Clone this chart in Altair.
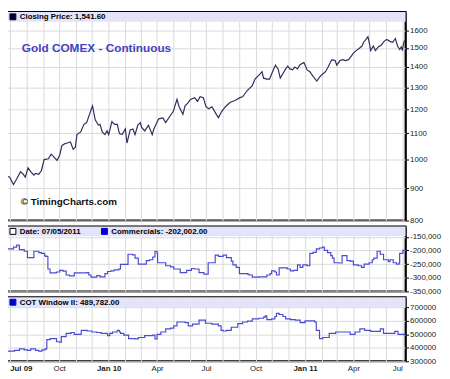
import altair as alt
import pandas as pd

# ---------------- data ----------------
START = "2009-07-01"  # day 0 of the day offsets below

# Gold COMEX continuous, closing price (days since START, price)
price_days = [-5, 0, 7, 13, 20, 25, 29, 34, 39, 45,
              48, 54, 59, 64, 72, 77, 82, 88, 93, 97,
              102, 107, 113, 118, 122, 125, 132, 138, 143, 149,
              152, 154, 159, 165, 168, 172, 177, 181, 184, 190,
              195, 200, 204, 209, 215, 218, 224, 229, 233, 238,
              243, 245, 251, 258, 265, 268, 277, 285, 290, 299,
              304, 311, 315, 322, 326, 331, 336, 344, 349, 354,
              360, 365, 370, 376, 383, 388, 394, 401, 410, 419,
              428, 433, 442, 451, 456, 463, 469, 472, 478, 483,
              490, 494, 499, 503, 508, 513, 517, 521, 526, 530,
              535, 539, 544, 547, 553, 558, 564, 571, 576, 581,
              587, 592, 596, 599, 605, 608, 614, 619, 624, 630,
              633, 639, 644, 649, 655, 658, 662, 666, 669, 671,
              676, 680, 685, 691, 696, 701, 707, 712, 717, 721,
              725, 728, 730, 732, 734]
price_vals = [940, 937, 912, 931, 956, 947, 937, 969, 956, 944,
              950, 947, 960, 999, 1002, 1019, 1009, 996, 1016, 1051,
              1058, 1061, 1065, 1037, 1044, 1094, 1105, 1136, 1143, 1182,
              1202, 1215, 1155, 1132, 1136, 1105, 1094, 1109, 1094, 1147,
              1136, 1136, 1098, 1094, 1117, 1061, 1113, 1117, 1094, 1132,
              1143, 1124, 1109, 1132, 1094, 1117, 1159, 1163, 1143, 1174,
              1190, 1244, 1211, 1178, 1215, 1227, 1244, 1252, 1235, 1256,
              1252, 1211, 1202, 1211, 1182, 1163, 1190, 1211, 1231, 1239,
              1252, 1256, 1286, 1308, 1339, 1358, 1376, 1344, 1339, 1339,
              1385, 1409, 1390, 1344, 1367, 1390, 1404, 1390, 1385, 1400,
              1390, 1409, 1419, 1423, 1385, 1376, 1353, 1330, 1349, 1362,
              1376, 1400, 1423, 1438, 1433, 1409, 1433, 1438, 1433, 1438,
              1448, 1472, 1486, 1496, 1511, 1532, 1547, 1563, 1522, 1486,
              1511, 1486, 1506, 1517, 1537, 1547, 1537, 1532, 1553, 1511,
              1492, 1506, 1486, 1522, 1541.6]

# Commercials net position (thousands of contracts)
comm_days = [-5, 7, 13, 17, 18, 27, 33, 39, 45, 51,
             54, 59, 65, 67, 71, 75, 84, 87, 93, 99,
             105, 111, 117, 120, 144, 147, 151, 159, 162, 168,
             174, 177, 182, 188, 194, 203, 206, 218, 220, 228,
             233, 239, 251, 254, 260, 266, 270, 274, 275, 287,
             290, 299, 305, 314, 317, 323, 329, 338, 343, 352,
             361, 366, 369, 376, 382, 388, 397, 403, 412, 415,
             421, 427, 442, 445, 451, 457, 463, 475, 478, 484,
             487, 493, 496, 501, 510, 516, 522, 528, 535, 540,
             545, 553, 558, 564, 570, 576, 581, 585, 591, 597,
             600, 603, 612, 618, 624, 627, 633, 639, 648, 654,
             659, 668, 674, 677, 683, 689, 695, 704, 707, 713,
             719, 724, 725, 731, 734]
comm_k = [-194, -188, -180, -182, -197, -203, -226, -226, -203, -203,
          -208, -211, -220, -222, -268, -282, -282, -279, -273, -276,
          -290, -293, -293, -282, -281, -290, -298, -298, -292, -297,
          -297, -285, -277, -275, -271, -268, -251, -251, -214, -216,
          -228, -250, -250, -237, -234, -224, -203, -211, -245, -245,
          -256, -260, -268, -268, -281, -281, -273, -266, -268, -281,
          -287, -287, -245, -245, -217, -222, -217, -226, -239, -253,
          -262, -285, -287, -290, -298, -298, -297, -297, -290, -285,
          -275, -279, -290, -264, -264, -268, -275, -273, -253, -262,
          -253, -256, -211, -207, -194, -191, -188, -200, -208, -219,
          -228, -245, -246, -219, -219, -237, -239, -253, -256, -262,
          -250, -245, -234, -228, -203, -214, -234, -241, -234, -245,
          -250, -245, -211, -200, -202.002]

# COT Window II (thousands)
cot_days = [-5, 4, 9, 18, 27, 33, 39, 48, 54, 60,
            66, 69, 75, 84, 87, 93, 96, 102, 105, 114,
            120, 131, 133, 144, 153, 162, 170, 177, 182, 186,
            191, 200, 204, 206, 212, 221, 233, 239, 251, 266,
            270, 274, 281, 287, 290, 299, 305, 311, 320, 326,
            332, 340, 349, 352, 361, 364, 376, 388, 393, 397,
            403, 412, 424, 433, 442, 451, 463, 472, 475, 478,
            487, 493, 496, 501, 508, 513, 522, 531, 540, 549,
            567, 570, 576, 582, 594, 606, 624, 633, 642, 651,
            660, 671, 686, 689, 695, 710, 716, 722, 731, 734]
cot_k = [376, 376, 381, 392, 385, 381, 392, 381, 376, 385,
         392, 461, 468, 468, 445, 443, 484, 484, 507, 514,
         500, 500, 530, 525, 518, 514, 507, 507, 491, 507,
         518, 530, 518, 507, 495, 468, 466, 477, 491, 495,
         466, 500, 518, 518, 541, 546, 564, 592, 592, 587,
         564, 576, 576, 606, 606, 583, 576, 564, 530, 525,
         530, 553, 580, 592, 599, 615, 620, 629, 638, 610,
         615, 633, 656, 648, 633, 615, 610, 606, 587, 601,
         592, 530, 468, 477, 507, 518, 518, 500, 518, 541,
         530, 523, 523, 541, 507, 507, 523, 500, 500, 489.782]

price_ticks = [800, 900, 1000, 1100, 1200, 1300, 1400, 1500, 1600]
comm_ticks = [-350000, -300000, -250000, -200000, -150000]
cot_ticks = [300000, 400000, 500000, 600000, 700000]

title_text = "Gold COMEX - Continuous"
copyright_text = "\u00a9 TimingCharts.com"
price_label = "Closing Price: 1,541.60"
date_label = "Date: 07/05/2011"
comm_label = "Commercials: -202,002.00"
cot_label = "COT Window II: 489,782.00"

# ---------------- tables ----------------
t0 = pd.Timestamp(START)
price_df = pd.DataFrame({"date": t0 + pd.to_timedelta(price_days, unit="D"), "price": price_vals})
comm_df = pd.DataFrame({"date": t0 + pd.to_timedelta(comm_days, unit="D"),
                        "value": [v * 1000 for v in comm_k]})
cot_df = pd.DataFrame({"date": t0 + pd.to_timedelta(cot_days, unit="D"),
                       "value": [v * 1000 for v in cot_k]})

# ---------------- layout ----------------
W = 405
H1, H2, H3 = 212, 66, 65
BAND = 10
BAND_COLOR = "#e3e3f9"
LINE_BLUE = "#4b4bd2"
FONT = "Liberation Sans"

x_scale = alt.Scale(domain=[alt.DateTime(year=2009, month=6, date=26),
                            alt.DateTime(year=2011, month=7, date=7)])
month_vals = [alt.DateTime(year=2009 + (6 + i) // 12, month=(6 + i) % 12 + 1, date=1)
              for i in range(25)]

grid_x_axis = alt.Axis(values=month_vals, labels=False, ticks=False, domain=False,
                       title=None, grid=True)
bottom_x_axis = alt.Axis(
    values=month_vals, ticks=False, domain=False, title=None, grid=True,
    labelOverlap=False, labelPadding=3, labelFontSize=8, labelColor="#222222",
    labelFlush=3.5,
    labelExpr=("month(datum.value) % 3 == 0 ? ((month(datum.value) == 0 || "
               "(year(datum.value) == 2009 && month(datum.value) == 6)) ? "
               "timeFormat(datum.value, '%b %y') : timeFormat(datum.value, '%b')) : ''"),
    labelFontWeight={"condition": {"test": "month(datum.value) == 0 || "
                                           "(year(datum.value) == 2009 && month(datum.value) == 6)",
                                   "value": "bold"},
                     "value": "normal"},
)


def y_axis(values, fmt=None, expr=None):
    kw = dict(orient="right", values=values, title=None, tickSize=3, labelPadding=1,
              grid=True, domain=True)
    if fmt:
        kw["format"] = fmt
    if expr:
        kw["labelExpr"] = expr
    return alt.Axis(**kw)


def band():
    return alt.Chart(pd.DataFrame({"b": [0]})).mark_rect(color=BAND_COLOR).encode(
        x=alt.value(0), x2=alt.value(W), y=alt.value(0), y2=alt.value(BAND))


def square(x, color, filled=True):
    return alt.Chart(pd.DataFrame({"b": [0]})).mark_rect(
        fill=color if filled else "white", stroke="#000000" if not filled else color,
        strokeWidth=1).encode(
        x=alt.value(x), x2=alt.value(x + 6), y=alt.value(2), y2=alt.value(8))


def label(text, x, y, size=8, color="#000000", weight="bold"):
    return alt.Chart(pd.DataFrame({"t": [text]})).mark_text(
        align="left", baseline="middle", font=FONT, fontSize=size,
        fontWeight=weight, color=color).encode(
        text="t:N", x=alt.value(x), y=alt.value(y))


# --- panel 1: price (log scale)
price_line = alt.Chart(price_df).mark_line(color="#2e2e5c", strokeWidth=1.2, clip=True).encode(
    x=alt.X("date:T", scale=x_scale, axis=grid_x_axis),
    y=alt.Y("price:Q", scale=alt.Scale(type="log", domain=[800, 1711]),
            axis=y_axis(price_ticks, fmt="d")),
)
panel1 = alt.layer(
    price_line, band(), square(3, "#000033"),
    label(price_label, 13, 5.5),
    label(title_text, 15, 37, size=12, color="#4343c3"),
    label(copyright_text, 14, 193, size=10, color="#111111"),
).properties(width=W, height=H1)

# --- panel 2: commercials
comm_line = alt.Chart(comm_df).mark_line(color=LINE_BLUE, strokeWidth=1.2, clip=True,
                                         interpolate="step-after").encode(
    x=alt.X("date:T", scale=x_scale, axis=grid_x_axis),
    y=alt.Y("value:Q", scale=alt.Scale(domain=[-350000, -112000], nice=False, zero=False),
            axis=y_axis(comm_ticks, expr="replace(format(datum.value, ','), '\u2212', '-')")),
)
panel2 = alt.layer(
    comm_line, band(), square(3, "#000000", filled=False),
    label(date_label, 13, 5.5),
    square(96, "#0000cc"),
    label(comm_label, 106, 5.5),
).properties(width=W, height=H2)

# --- panel 3: COT window II
cot_line = alt.Chart(cot_df).mark_line(color=LINE_BLUE, strokeWidth=1.2, clip=True,
                                       interpolate="step-after").encode(
    x=alt.X("date:T", scale=x_scale, axis=bottom_x_axis),
    y=alt.Y("value:Q", scale=alt.Scale(domain=[300000, 776000], nice=False, zero=False),
            axis=y_axis(cot_ticks, fmt="d")),
)
panel3 = alt.layer(
    cot_line, band(), square(3, "#0000cc"),
    label(cot_label, 13, 5.5),
).properties(width=W, height=H3)

chart = alt.vconcat(panel1, panel2, panel3, spacing=0).properties(
    padding={"left": -2, "top": 0, "right": 0, "bottom": 0},
    background="white",
).configure_view(
    stroke="#000000", strokeWidth=2,
).configure_axis(
    labelFont=FONT, labelFontSize=8, labelColor="#222222",
    gridColor="#d9d9d9", gridWidth=1, tickColor="#000000", domainColor="#000000",
)

chart.save("out.html", embed_options={"renderer": "svg", "actions": False})
